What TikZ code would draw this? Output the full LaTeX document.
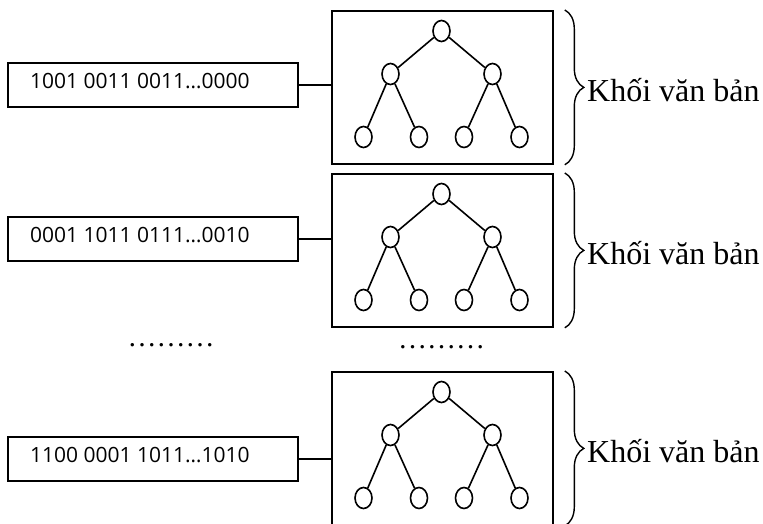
\documentclass[tikz,border=0pt]{standalone}
\usepackage{fontspec}
\setmainfont{Liberation Serif}
\newfontfamily\binfont{Open Sans}
\usetikzlibrary{shapes.geometric,decorations.pathreplacing}
\begin{document}
\begin{tikzpicture}[x=1pt,y=-1pt,
  tnode/.style={ellipse,draw,line width=1.6pt,minimum width=17pt,minimum height=21pt,inner sep=0pt},
  tedge/.style={line width=1.6pt},
  blockbox/.style={draw,line width=1.8pt,minimum width=221pt,minimum height=153pt,inner sep=0pt,anchor=north west},
  codebox/.style={draw,line width=1.5pt,minimum width=290pt,minimum height=44pt,inner sep=0pt},
  codetext/.style={font=\binfont\fontsize{21}{21}\selectfont,anchor=west,inner sep=0pt},
  conn/.style={line width=1.5pt},
  bracestyle/.style={decorate,decoration={brace,amplitude=19pt},line width=1.4pt},
  blocklabel/.style={font=\fontsize{32}{32}\selectfont,anchor=base west,inner sep=0pt},
  dotstyle/.style={font=\fontsize{29}{29}\selectfont,anchor=base,inner sep=0pt}
]
\useasboundingbox (0,0) rectangle (763,524);
\foreach \i/\t/\c/\code in {1/10/85/{1001 0011 0011…0000},2/173/239/{0001 1011 0111…0010},3/371/459/{1100 0001 1011…1010}}{
  \node[blockbox] (blk\i) at (331,\t) {};
  \node[tnode] (r\i) at (441.5,{\t+21}) {};
  \node[tnode] (a\i) at (390.5,{\t+64}) {};
  \node[tnode] (b\i) at (492.5,{\t+64}) {};
  \node[tnode] (la\i) at (363.5,{\t+127}) {};
  \node[tnode] (lb\i) at (419,{\t+127}) {};
  \node[tnode] (lc\i) at (464,{\t+127}) {};
  \node[tnode] (ld\i) at (519.5,{\t+127}) {};
  \draw[tedge] (r\i) -- (a\i);
  \draw[tedge] (r\i) -- (b\i);
  \draw[tedge] (a\i) -- (la\i);
  \draw[tedge] (a\i) -- (lb\i);
  \draw[tedge] (b\i) -- (lc\i);
  \draw[tedge] (b\i) -- (ld\i);
  \node[codebox] (c\i) at (153,\c) {};
  \node[codetext] (ct\i) at (30,{\c-4}) {\code};
  \draw[conn] (c\i.east) -- (c\i.east -| blk\i.west);
  \draw[bracestyle] ([xshift=11pt]blk\i.north east) -- ([xshift=11pt]blk\i.south east);
  \node[blocklabel] (k\i) at (587,{\t+86.5+5}) {Khối văn bản};
}
\node[dotstyle] (d1) at (171,346) {………};
\node[dotstyle] (d2) at (441.5,348) {………};
\end{tikzpicture}
\end{document}
